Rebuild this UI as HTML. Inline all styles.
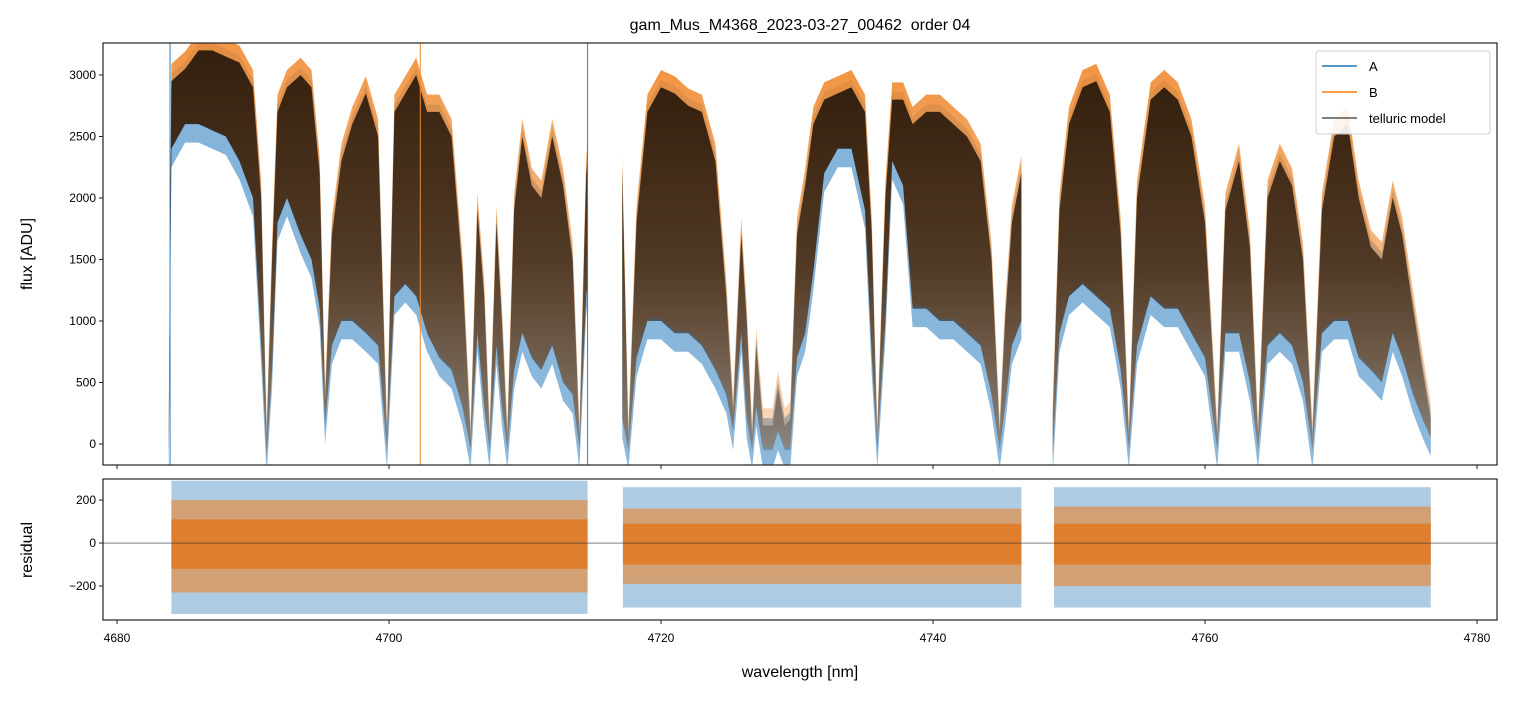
<!DOCTYPE html>
<html><head><meta charset="utf-8"><style>
body{margin:0;background:#fff;font-family:"Liberation Sans",sans-serif;}
svg text{font-family:"Liberation Sans","DejaVu Sans",sans-serif;white-space:pre;}
</style></head><body>
<svg id="chart" width="1514" height="696" xmlns="http://www.w3.org/2000/svg">
<defs>
<linearGradient id="gm" x1="0" y1="0" x2="0" y2="1">
<stop offset="0" stop-color="#2a1a0c" stop-opacity="0.95"/>
<stop offset="0.5" stop-color="#2a1a0c" stop-opacity="0.75"/>
<stop offset="1" stop-color="#2a1a0c" stop-opacity="0.25"/>
</linearGradient>
<linearGradient id="go" x1="0" y1="0" x2="0" y2="1">
<stop offset="0" stop-color="#f0892e" stop-opacity="0.9"/>
<stop offset="1" stop-color="#f0892e" stop-opacity="0.3"/>
</linearGradient>
<linearGradient id="gbl" x1="0" y1="0" x2="0" y2="1">
<stop offset="0" stop-color="#2f7fc0" stop-opacity="0.6"/>
<stop offset="1" stop-color="#2f7fc0" stop-opacity="0.55"/>
</linearGradient>
</defs>
<text x="800" y="30" font-size="16" text-anchor="middle">gam_Mus_M4368_2023-03-27_00462  order 04</text>
<g id="gtop"></g><g id="gbot"></g>
</svg>
<script>
// ---- data ----
const specWl=[4683.8,4684,4685,4686,4687,4688,4689,4690,4690.6,4691,4691.4,4691.8,4692.5,4693.5,4694.3,4694.9,4695.3,4695.8,4696.5,4697.3,4698.3,4699.2,4699.85,4700.4,4701.2,4702,4702.8,4703.7,4704.6,4705.4,4706,4706.5,4707,4707.4,4707.9,4708.3,4708.7,4709.2,4709.8,4710.5,4711.2,4712,4712.8,4713.5,4714,4714.5,4714.6,null,
4717.15,4717.6,4718.2,4719,4720,4721,4722,4723,4724,4724.8,4725.3,4725.9,4726.3,4726.7,4727,4727.5,4728.2,4728.6,4729.1,4729.5,4730,4730.6,4731.2,4732,4733,4734,4735,4735.5,4735.9,4736.5,4737,4737.8,4738.5,4739.5,4740.5,4741.5,4742.5,4743.5,4744.3,4744.9,4745.3,4745.8,4746.5,null,
4748.8,4749.3,4750,4751,4752,4753,4753.8,4754.4,4755,4756,4757,4758,4759,4760,4760.9,4761.5,4762.5,4763.3,4763.9,4764.6,4765.5,4766.4,4767.2,4767.9,4768.6,4769.5,4770.5,4771.3,4772.2,4773,4773.8,4774.5,4775.3,4776,4776.6];
const specHi=[100,2950,3050,3200,3200,3150,3100,2900,2000,50,1500,2700,2900,3000,2900,2200,350,1700,2300,2600,2850,2500,50,2700,2850,3000,2700,2700,2500,1400,50,1900,1200,50,1800,1000,50,1900,2500,2100,2000,2500,2100,1500,50,2200,2300,null,
2200,50,1800,2700,2900,2850,2750,2700,2300,1200,250,1700,1000,50,800,150,150,450,150,200,1700,2100,2600,2800,2850,2900,2700,1700,50,2000,2800,2800,2600,2700,2700,2600,2500,2300,1500,80,1000,1800,2200,null,
200,1900,2600,2900,2950,2700,1700,50,2000,2800,2900,2800,2500,1800,50,1900,2300,1600,50,2000,2300,2100,1500,50,1900,2500,2600,2000,1600,1500,2000,1700,1100,600,200];
const specLo=[-150,2400,2600,2600,2550,2500,2300,2000,800,-100,600,1800,2000,1700,1500,1100,150,800,1000,1000,900,800,-50,1200,1300,1200,900,700,600,300,-50,900,300,-50,800,300,-50,600,900,700,600,800,500,400,-50,1200,1300,null,
200,-50,700,1000,1000,900,900,800,600,400,100,900,200,-50,300,-50,-50,100,-50,-50,700,900,1400,2200,2400,2400,1900,700,-50,1000,2300,2100,1100,1100,1000,1000,900,800,400,-50,300,800,1000,null,
-100,900,1200,1300,1200,1100,600,-50,800,1200,1100,1100,900,700,-50,900,900,500,-50,800,900,800,500,-50,900,1000,1000,700,600,500,900,700,400,200,50];
const spikeWl=[4714.6,4702.3,4683.9];
const spikeLo=[-200,-200,-200];
const resStart=[4684,4717.2,4748.9];
const resEnd=[4714.6,4746.5,4776.6];
const resBlueHi=[290,260,260];
const resBlueLo=[-330,-300,-300];
const resOrHi=[200,160,170];
const resOrLo=[-230,-190,-200];
const resCoreHi=[110,90,90];
const resCoreLo=[-120,-100,-100];
const xTicks=[4680,4700,4720,4740,4760,4780];
const yTicksTop=[0,500,1000,1500,2000,2500,3000];
const yTicksBot=[-200,0,200];
// ---- axes ----
const NS="http://www.w3.org/2000/svg";
const X0=103,X1=1497,XMIN=4678.97,XMAX=4781.47;
const x=v=>X0+(v-XMIN)/(XMAX-XMIN)*(X1-X0);
const T0=43,T1=465,TMIN=-171,TMAX=3260;
const yT=v=>T1-(v-TMIN)/(TMAX-TMIN)*(T1-T0);
const B0=479,B1=620,BMIN=-358,BMAX=298;
const yB=v=>B1-(v-BMIN)/(BMAX-BMIN)*(B1-B0);
function mk(tag,attrs,parent){const e=document.createElementNS(NS,tag);for(const k in attrs)e.setAttribute(k,attrs[k]);parent.appendChild(e);return e;}
const svgEl=document.getElementById('chart');
const gTopEl=document.getElementById('gtop'),gBotEl=document.getElementById('gbot');
const defs=svgEl.querySelector('defs');
const c1=mk('clipPath',{id:'ct'},defs);mk('rect',{x:X0,y:T0,width:X1-X0,height:T1-T0},c1);
const c2=mk('clipPath',{id:'cb'},defs);mk('rect',{x:X0,y:B0,width:X1-X0,height:B1-B0},c2);
const gt=mk('g',{'clip-path':'url(#ct)'},gTopEl);
const gb=mk('g',{'clip-path':'url(#cb)'},gBotEl);
const segs=[];let cur=[];
for(let i=0;i<specWl.length;i++){if(specWl[i]===null){segs.push(cur);cur=[];}else cur.push(i);}
segs.push(cur);
segs.forEach((s,k)=>{
  const up=s.map(i=>x(specWl[i])+','+yT(specHi[i]+60)).join(' ');
  const dn=s.slice().reverse().map(i=>x(specWl[i])+','+yT(specLo[i]-150)).join(' ');
  const pb=mk('polygon',{points:up+' '+dn,fill:'url(#gbl)'},gt);
  
  
  const up2=s.map(i=>x(specWl[i])+','+yT(specHi[i]+140)).join(' ');
  const dn2=s.slice().reverse().map(i=>x(specWl[i])+','+yT(specLo[i]+20)).join(' ');
  const po=mk('polygon',{points:up2+' '+dn2,fill:'url(#go)'},gt);
  
  
  const up3=s.map(i=>x(specWl[i])+','+yT(specHi[i])).join(' ');
  const dn3=s.slice().reverse().map(i=>x(specWl[i])+','+yT(specLo[i])).join(' ');
  const pm=mk('polygon',{points:up3+' '+dn3,fill:'url(#gm)'},gt);
  
  
});
spikeWl.forEach((w,i)=>{
  const l=mk('line',{x1:x(w),x2:x(w),y1:T0,y2:yT(spikeLo[i]),stroke:i==1?'#f0892e':'#2f7fc0','stroke-width':1},gt);
  
  
});
resStart.forEach((s,i)=>{
  const rb=mk('rect',{x:x(s),width:x(resEnd[i])-x(s),y:yB(resBlueHi[i]),height:yB(resBlueLo[i])-yB(resBlueHi[i]),fill:'#4a8ec4',opacity:0.45},gb);
  
  
  const ro=mk('rect',{x:x(s),width:x(resEnd[i])-x(s),y:yB(resOrHi[i]),height:yB(resOrLo[i])-yB(resOrHi[i]),fill:'#e9832c',opacity:0.6},gb);
  
  
  const rc=mk('rect',{x:x(s),width:x(resEnd[i])-x(s),y:yB(resCoreHi[i]),height:yB(resCoreLo[i])-yB(resCoreHi[i]),fill:'#df7f2e'},gb);
  
  
});
const zl=mk('line',{x1:X0,x2:X1,y1:yB(0),y2:yB(0),stroke:'#333','stroke-width':0.7},gb);


[[T0,T1,gTopEl],[B0,B1,gBotEl]].forEach(([a,b,g])=>{
  const r=mk('rect',{x:X0,y:a,width:X1-X0,height:b-a,fill:'none',stroke:'#222','stroke-width':1.2},g);
  
  
  xTicks.forEach(t=>{mk('line',{x1:x(t),x2:x(t),y1:b,y2:b+4,stroke:'#222'},g);});
});
xTicks.forEach(t=>{
  const tx=mk('text',{x:x(t),y:B1+22,'font-size':12,'text-anchor':'middle'},gBotEl);tx.textContent=t;
  
  
});
yTicksTop.forEach(t=>{
  mk('line',{x1:X0-4,x2:X0,y1:yT(t),y2:yT(t),stroke:'#222'},gTopEl);
  const tx=mk('text',{x:X0-7,y:yT(t)+4,'font-size':12,'text-anchor':'end'},gTopEl);tx.textContent=t;
  
  
});
yTicksBot.forEach(t=>{
  mk('line',{x1:X0-4,x2:X0,y1:yB(t),y2:yB(t),stroke:'#222'},gBotEl);
  const tx=mk('text',{x:X0-7,y:yB(t)+4,'font-size':12,'text-anchor':'end'},gBotEl);tx.textContent=t===-200?'\u2212200':t;
  
  
});
let t1=mk('text',{x:800,y:677,'font-size':16,'text-anchor':'middle'},svgEl);t1.textContent='wavelength [nm]';


let t2=mk('text',{x:32,y:254,'font-size':16,'text-anchor':'middle',transform:'rotate(-90 32 254)'},svgEl);t2.textContent='flux [ADU]';


let t3=mk('text',{x:32,y:550,'font-size':16,'text-anchor':'middle',transform:'rotate(-90 32 550)'},svgEl);t3.textContent='residual';


const lg=mk('g',{},svgEl);


mk('rect',{x:1316,y:51,width:174,height:83,rx:3,fill:'#fff',stroke:'#ccc',opacity:0.9},lg);
[['A','#1f77b4'],['B','#ff7f0e'],['telluric model','#555']].forEach((e,i)=>{
  const yy=66+i*26;
  mk('line',{x1:1322,x2:1357,y1:yy,y2:yy,stroke:e[1],'stroke-width':1.6},lg);
  const tx=mk('text',{x:1369,y:yy+5,'font-size':13},lg);tx.textContent=e[0];
  
  
});
</script>
</body></html>
